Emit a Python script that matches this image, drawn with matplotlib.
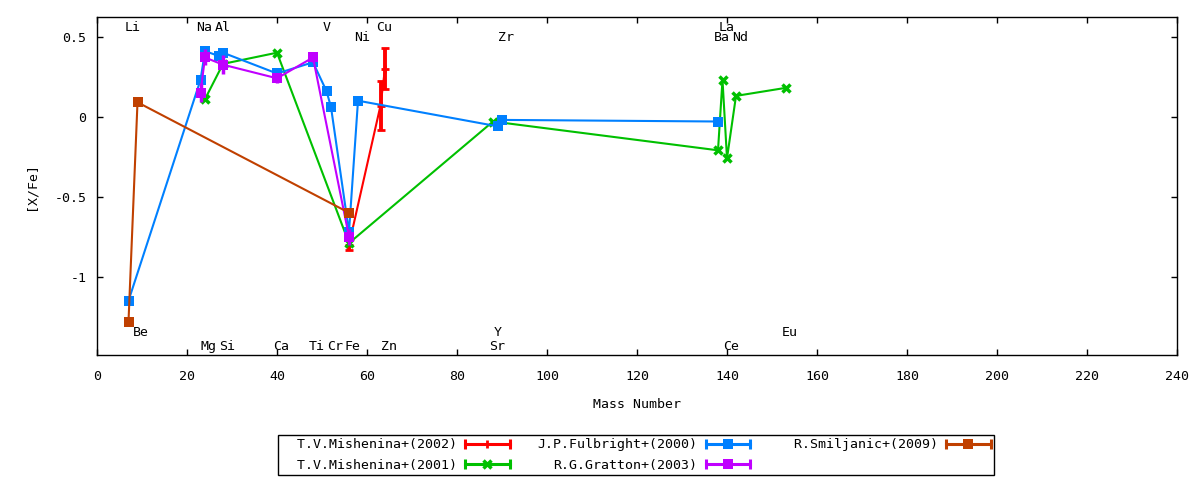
import matplotlib
matplotlib.use("Agg")
import matplotlib.pyplot as plt
from matplotlib.lines import Line2D
from matplotlib.legend_handler import HandlerBase
from matplotlib import transforms
from matplotlib.ticker import FuncFormatter

plt.rcParams['font.family'] = ['DejaVu Sans Mono']
plt.rcParams['font.size'] = 9.5
plt.rcParams['axes.unicode_minus'] = False

# T.V.Mishenina+(2002)
mish02_mass = [56, 63, 64]
mish02_xfe = [-0.80, 0.07, 0.30]
mish02_err = [0.03, 0.15, 0.13]

# T.V.Mishenina+(2001)
mish01_mass = [24, 28, 40, 56, 88, 138, 139, 140, 142, 153]
mish01_xfe = [0.11, 0.33, 0.40, -0.79, -0.03, -0.21, 0.23, -0.26, 0.13, 0.18]

# J.P.Fulbright+(2000)
fulb_mass = [7, 23, 24, 27, 28, 40, 48, 51, 52, 56, 58, 89, 90, 138]
fulb_xfe = [-1.15, 0.23, 0.41, 0.38, 0.40, 0.27, 0.34, 0.16, 0.06, -0.72, 0.10, -0.06, -0.02, -0.03]

# R.G.Gratton+(2003)
grat_mass = [23, 24, 28, 40, 48, 56]
grat_xfe = [0.15, 0.37, 0.325, 0.24, 0.37, -0.75]
grat_err = [0.06, 0.05, 0.06, 0.03, 0.03, 0.05]

# R.Smiljanic+(2009)
smil_mass = [7, 9, 56]
smil_xfe = [-1.28, 0.09, -0.60]

# element names written inside the plot (four rows)
top1_names = ['Li', 'Na', 'Al', 'V', 'Cu', 'La']
top1_mass = [7, 23, 27, 51, 63, 139]
top2_names = ['Ni', 'Zr', 'Ba', 'Nd']
top2_mass = [58, 90, 138, 142]
bot1_names = ['Be', 'Y', 'Eu']
bot1_mass = [9, 89, 153]
bot2_names = ['Mg', 'Si', 'Ca', 'Ti', 'Cr', 'Fe', 'Zn', 'Sr', 'Ce']
bot2_mass = [24, 28, 40, 48, 52, 56, 64, 88, 140]

RED = '#ff0000'
GREEN = '#00c000'
BLUE = '#0080ff'
PURPLE = '#c000ff'
BROWN = '#c04000'


class ErrLineHandler(HandlerBase):
    """gnuplot-like key sample: line with end caps and the point in the middle"""
    def create_artists(self, legend, orig, xdescent, ydescent, width, height, fontsize, trans):
        y = height / 2 - ydescent
        x0, x1 = -xdescent, width - xdescent
        c = orig.get_color()
        base = Line2D([x0, x1], [y, y], color=c, lw=2.2)
        caps = Line2D([x0, x1], [y, y], ls='none', marker='|', ms=7, mew=2.2, color=c)
        mid = Line2D([(x0 + x1) / 2], [y], ls='none', marker=orig.get_marker(),
                     ms=orig.get_markersize(), mew=orig.get_markeredgewidth(), color=c)
        for a in (base, caps, mid):
            a.set_transform(trans)
        return [base, caps, mid]


fig = plt.figure(figsize=(12, 4.8), dpi=100)
ax = fig.add_axes([97 / 1200, 1 - 355 / 480, 1080 / 1200, 338 / 480])

lw = 1.5
ax.errorbar(mish02_mass, mish02_xfe, yerr=mish02_err, color=RED, lw=lw, marker='+', ms=6, mew=2,
            elinewidth=2.8, capsize=3, capthick=2, zorder=2)
ax.plot(mish01_mass, mish01_xfe, color=GREEN, lw=lw, marker='x', ms=6, mew=2.5, zorder=3)
ax.plot(fulb_mass, fulb_xfe, color=BLUE, lw=lw, marker='s', ms=6.5, mew=0, zorder=4)
ax.errorbar(grat_mass, grat_xfe, yerr=grat_err, color=PURPLE, lw=lw, marker='s', ms=6.5, mew=0,
            elinewidth=2.5, capsize=3, capthick=2, zorder=5)
ax.plot(smil_mass, smil_xfe, color=BROWN, lw=lw, marker='s', ms=7, mew=0, zorder=6)

txt_tr = transforms.offset_copy(ax.transData, fig=fig, x=-3, y=0, units='points')
for names, masses, yb in ((top1_names, top1_mass, 0.533), (top2_names, top2_mass, 0.471),
                          (bot1_names, bot1_mass, -1.373), (bot2_names, bot2_mass, -1.456)):
    for n, m in zip(names, masses):
        ax.text(m, yb, n, transform=txt_tr, ha='left', va='baseline', zorder=10)

ax.set_xlim(0, 240)
ax.set_ylim(-1.489, 0.623)
ax.set_xticks(range(0, 241, 20))
ax.set_yticks([-1, -0.5, 0, 0.5])
ax.yaxis.set_major_formatter(FuncFormatter(lambda v, p: '%g' % v))
ax.tick_params(axis='x', direction='in', length=4, width=1, top=True, pad=10.5)
ax.tick_params(axis='y', direction='in', length=4, width=1, right=True, pad=7.5)
for s in ax.spines.values():
    s.set_linewidth(1)

ax.set_xlabel('Mass Number')
ax.xaxis.label.set_va('center')
ax.xaxis.set_label_coords(0.5, (355 - 405) / 338)
ax.set_ylabel('[X/Fe]')
ax.yaxis.label.set_va('center')
ax.yaxis.set_label_coords((31 - 97) / 1080, 0.5)

handles = [Line2D([], [], color=RED, marker='+', ms=6, mew=2),
           Line2D([], [], color=GREEN, marker='x', ms=6, mew=2.5),
           Line2D([], [], color=BLUE, marker='s', ms=6.5, mew=0),
           Line2D([], [], color=PURPLE, marker='s', ms=6.5, mew=0),
           Line2D([], [], color=BROWN, marker='s', ms=7, mew=0)]
labels = ['  T.V.Mishenina+(2002)', '  T.V.Mishenina+(2001)',
          'J.P.Fulbright+(2000)', 'R.G.Gratton+(2003)', '  R.Smiljanic+(2009)']
leg = fig.legend(handles, labels, loc='center', bbox_to_anchor=(636 / 1200, 1 - 455 / 480),
                 ncol=3, markerfirst=False, handler_map={Line2D: ErrLineHandler()},
                 handlelength=3.4, handletextpad=0.6, columnspacing=2.1,
                 labelspacing=0.58, borderpad=0.25, fancybox=False, edgecolor='black',
                 framealpha=1)
leg.get_frame().set_linewidth(1)

fig.savefig('out.png', dpi=100)
